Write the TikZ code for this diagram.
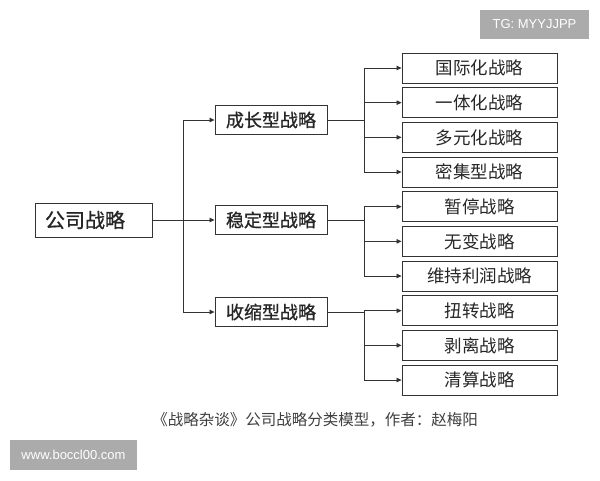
\documentclass[tikz,border=0pt]{standalone}
\usepackage{fontspec}
\setmainfont{Liberation Sans}
\newfontfamily\cjk{Noto Sans CJK SC}
\newfontfamily\cjkb[FakeBold=0.8]{Noto Sans CJK SC}
\usetikzlibrary{arrows.meta}
\begin{document}
\begin{tikzpicture}[x=1pt,y=-1pt,
  basebox/.style={draw=black!80, line width=0.9pt, fill=white, inner sep=0pt, text=black!85},
  rootbox/.style={basebox, minimum height=34pt, text width=97pt, inner xsep=10pt, align=left, font=\cjkb\fontsize{20}{22}\selectfont},
  midbox/.style={basebox, minimum width=112pt, minimum height=29pt, font=\cjkb\fontsize{18}{20}\selectfont},
  leafbox/.style={basebox, minimum width=155pt, minimum height=30pt, font=\cjk\fontsize{17.5}{19}\selectfont},
  conn/.style={line width=0.8pt, draw=black!80},
  arr/.style={conn, -{Triangle[length=5pt,width=4.5pt]}},
  wm/.style={fill=black!33, text=white, inner sep=0pt, font=\fontsize{13}{15}\selectfont}
]
\useasboundingbox (0,0) rectangle (600,480);
\fill[white] (0,0) rectangle (600,480);

% watermark boxes
\node[wm, minimum width=109pt, minimum height=29pt] (tg) at (534.5,24.5) {TG: MYYJJPP};
\node[wm, minimum width=127pt, minimum height=30pt] (www) at (73.5,455) {www.boccl00.com};

% root and middle level
\node[rootbox] (root) at (93.5,220) {公司战略};
\node[midbox] (m1) at (271,120) {成长型战略};
\node[midbox] (m2) at (271,220) {稳定型战略};
\node[midbox] (m3) at (271,312) {收缩型战略};

% leaves
\foreach \i/\t in {0/国际化战略,1/一体化战略,2/多元化战略,3/密集型战略,4/暂停战略,5/无变战略,6/维持利润战略,7/扭转战略,8/剥离战略,9/清算战略}{
  \node[leafbox] (c\i) at (479.5,{68+34.67*\i}) {\t};
}

% coordinates of trunk lines
\coordinate (tx) at (183,0);
\coordinate (jx) at (364,0);

% root -> middle
\draw[arr] (root.east) -- (m2.west);
\draw[arr] (tx |- m2.west) |- (m1.west);
\draw[arr] (tx |- m2.west) |- (m3.west);

% growth
\draw[conn] (m1.east) -- (jx |- m1.east);
\draw[conn] (jx |- c0.west) -- (jx |- c3.west);
\foreach \i in {0,1,2,3}{ \draw[arr] (jx |- c\i.west) -- (c\i.west); }

% stable
\draw[conn] (m2.east) -- (jx |- m2.east);
\draw[conn] (jx |- c4.west) -- (jx |- c6.west);
\foreach \i in {4,5,6}{ \draw[arr] (jx |- c\i.west) -- (c\i.west); }

% retrench
\draw[conn] (m3.east) -- (jx |- m3.east);
\draw[conn] (jx |- c7.west) -- (jx |- c9.west);
\foreach \i in {7,8,9}{ \draw[arr] (jx |- c\i.west) -- (c\i.west); }

% caption
\node[font=\cjk\fontsize{15.5}{17}\selectfont, text=black!75, inner sep=0pt] (cap) at (315,420) {《战略杂谈》公司战略分类模型，作者：赵梅阳};
\end{tikzpicture}
\end{document}
